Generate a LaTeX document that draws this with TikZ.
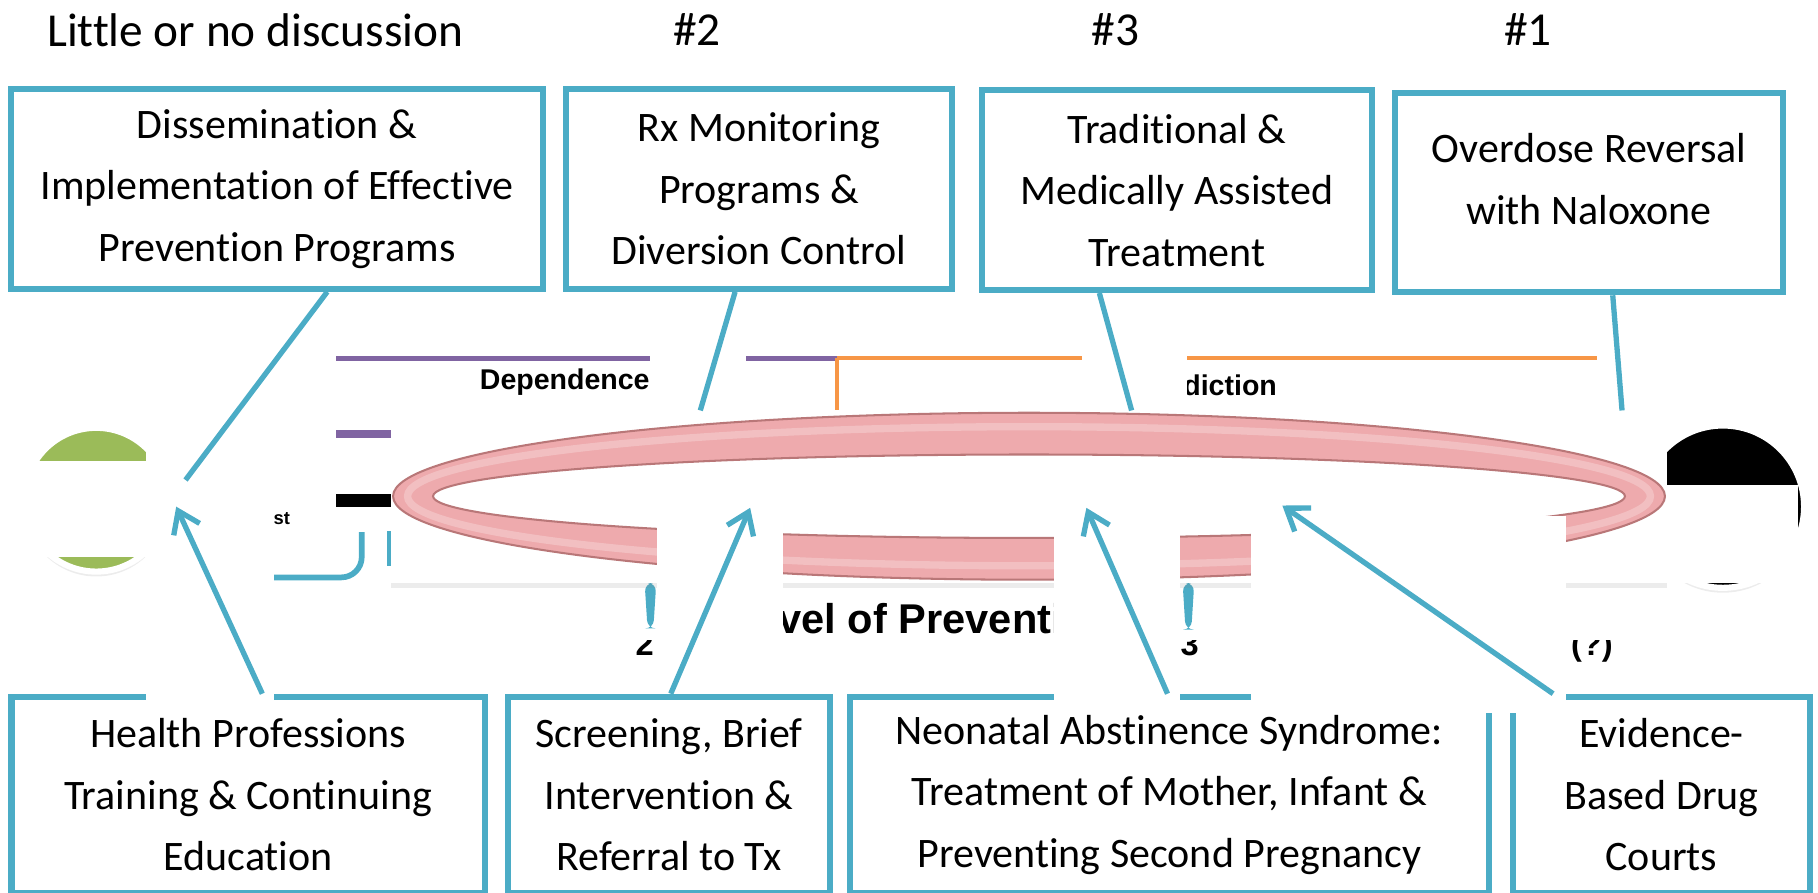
\documentclass[tikz,border=0pt]{standalone}
\usepackage{fontspec}
\setmainfont{Carlito}[Ligatures=NoCommon]
\newfontfamily\chartfont{Liberation Sans}
\usetikzlibrary{arrows.meta,shadows}
\definecolor{aqua}{HTML}{4BACC6}
\definecolor{chartpurple}{HTML}{8064A2}
\definecolor{chartorange}{HTML}{F79646}
\definecolor{chartgreen}{HTML}{9BBB59}
\definecolor{ringpink}{HTML}{EEAAAD}
\definecolor{ringedge}{HTML}{B97778}

\begin{document}
\begin{tikzpicture}[x=0.01cm,y=-0.01cm]
  \tikzstyle{box}=[draw=aqua, line width=1.5pt, fill=white, inner sep=0pt, align=center, font=\fontsize{10.3}{15.1}\selectfont]
  \tikzstyle{boxtext}=[inner sep=0pt, align=center, font=\fontsize{10.3}{15.1}\selectfont]
  \tikzstyle{head}=[inner sep=0pt, anchor=base, font=\fontsize{11.6}{14}\selectfont]
  \tikzstyle{chart}=[inner sep=0pt, font=\chartfont\bfseries\fontsize{7}{8}\selectfont]
  \tikzstyle{link}=[draw=aqua, line width=1.3pt]
  \tikzstyle{pointer}=[link, -{Straight Barb[length=5pt,width=7pt]}]
  \tikzstyle{softshadow}=[drop shadow={opacity=.15, shadow xshift=0pt, shadow yshift=-1.2pt}]
  \useasboundingbox (0,0) rectangle (1568,770);

  \node[head, anchor=base west] (nodiscussion) at (40,40) {Little or no discussion};
  \node[head] (rank2) at (601,39) {\#2};
  \node[head] (rank3) at (962,39) {\#3};
  \node[head] (rank1) at (1318,39) {\#1};

  % chart behind the ring
  \draw[chartpurple, line width=1.2pt] (290,309) -- (722,309);
  \draw[chartorange, line width=1pt] (722,309) -- (1377,309) (722,309) -- (722,354);
  \node[chart, anchor=east] (dependence) at (561,330) {Dependence};
  \node[chart, anchor=east] (addiction) at (1102,332) {Addiction};
  \draw[chartpurple, line width=2pt] (290,374) -- (337,374);
  \draw[black, line width=3.2pt] (290,432) -- (337,432);
  \node[chart, font=\chartfont\bfseries\fontsize{4.5}{5}\selectfont] (st) at (243,447) {st};
  \draw[aqua, line width=1.4pt, rounded corners=5] (236,498) -- (312,498) -- (312,459);
  \draw[aqua, line width=1.4pt] (336,458) -- (336,488);
  \fill[aqua, rounded corners=2] (556,503) -- (566,503) -- (563.5,542) -- (558.5,542) -- cycle;
  \fill[aqua, rounded corners=2] (1020,503) -- (1030,503) -- (1027.5,543) -- (1022.5,543) -- cycle;
  \begin{scope}
    \clip (0,552) rectangle (1568,600);
    \node[chart, anchor=base, font=\chartfont\bfseries\fontsize{8}{9}\selectfont] (lvl2) at (556,565) {2};
    \node[chart, anchor=base, font=\chartfont\bfseries\fontsize{8}{9}\selectfont] (lvl3) at (1026,565) {3};
    \node[chart, anchor=base, font=\chartfont\bfseries\fontsize{8}{9}\selectfont] (lvlq) at (1373,565) {(?)};
  \end{scope}
  \node[chart, anchor=base west, font=\chartfont\bfseries\fontsize{10.2}{12}\selectfont] (level) at (629,546) {Level of Prevention};
  \filldraw[fill=chartgreen, draw=white, line width=1.5pt, softshadow] (83,431) circle[radius=62];
  \filldraw[fill=black, draw=white, line width=1.5pt, softshadow] (1486,437) circle[radius=70];

  \node[box, minimum width=4.58cm, minimum height=1.72cm] (dissem) at (239,163) {Dissemination \&\\Implementation of Effective\\Prevention Programs};
  \node[box, minimum width=3.33cm, minimum height=1.72cm] (rxmon) at (654.5,163) {Rx Monitoring\\Programs \&\\Diversion Control};
  \node[box, minimum width=3.36cm, minimum height=1.72cm] (mat) at (1015,164) {Traditional \&\\Medically Assisted\\Treatment};
  \node[box, minimum width=3.35cm, minimum height=1.72cm] (naloxone) at (1370.5,166) {};
  \node[boxtext] (naloxonetext) at (1370.5,154.5) {Overdose Reversal\\with Naloxone};
  \node[box, minimum width=4.08cm, minimum height=1.69cm] (training) at (214,685.5) {Health Professions\\Training \& Continuing\\Education};
  \node[box, minimum width=2.78cm, minimum height=1.69cm] (sbirt) at (577,685.5) {Screening, Brief\\Intervention \&\\Referral to Tx};
  \node[box, minimum width=5.51cm, minimum height=1.69cm] (nas) at (1008.5,685.5) {Neonatal Abstinence Syndrome:\\Treatment of Mother, Infant \&\\Preventing Second Pregnancy};
  \node[box, minimum width=2.56cm, minimum height=1.69cm] (courts) at (1433,685.5) {Evidence-\\Based Drug\\Courts};

  % white cut-outs
  \fill[white] (126,360) rectangle (236,604);
  \fill[white] (0,398) rectangle (126,480);
  \fill[white] (1438,418) rectangle (1551,503);
  \fill[white] (561,298) rectangle (643,354);
  \fill[white] (933,298) rectangle (1024,354);

  % ring
  \fill[white, softshadow] (337,354) rectangle (1438,503);
  \coordinate (hub) at (887.5,428);
  \fill[ringpink, even odd rule] (hub) ellipse[x radius=548.5, y radius=72] (hub) ellipse[x radius=514, y radius=36];
  \draw[white, opacity=.25, line width=1.8pt] (hub) ellipse[x radius=536, y radius=60];
  \draw[ringedge, line width=.5pt] (hub) ellipse[x radius=548.5, y radius=72] (hub) ellipse[x radius=514, y radius=36];

  \fill[white] (567,445) rectangle (675,597);
  \fill[white] (909,445) rectangle (1018,607);
  \fill[white] (1079,445) rectangle (1351,615);

  \coordinate (t1) at (160,414);
  \coordinate (t2) at (604,354);
  \coordinate (t3) at (976,354);
  \coordinate (t4) at (1399,354);
  \coordinate (h1) at (152,437);
  \coordinate (h2) at (647,438);
  \coordinate (h3) at (937,438);
  \coordinate (h4) at (1106,436);

  \draw[link] (dissem.-64.5) -- (t1);
  \draw[link] (rxmon.-103.4) -- (t2);
  \draw[link] (mat.-127.9) -- (t3);
  \draw[link] (naloxone.-77.9) -- (t4);
  \draw[pointer] (training.82.6) -- (h1);
  \draw[pointer] (sbirt.89.3) -- (h2);
  \draw[pointer] (nas.91) -- (h3);
  \draw[pointer] (courts.137.1) -- (h4);
\end{tikzpicture}
\end{document}
